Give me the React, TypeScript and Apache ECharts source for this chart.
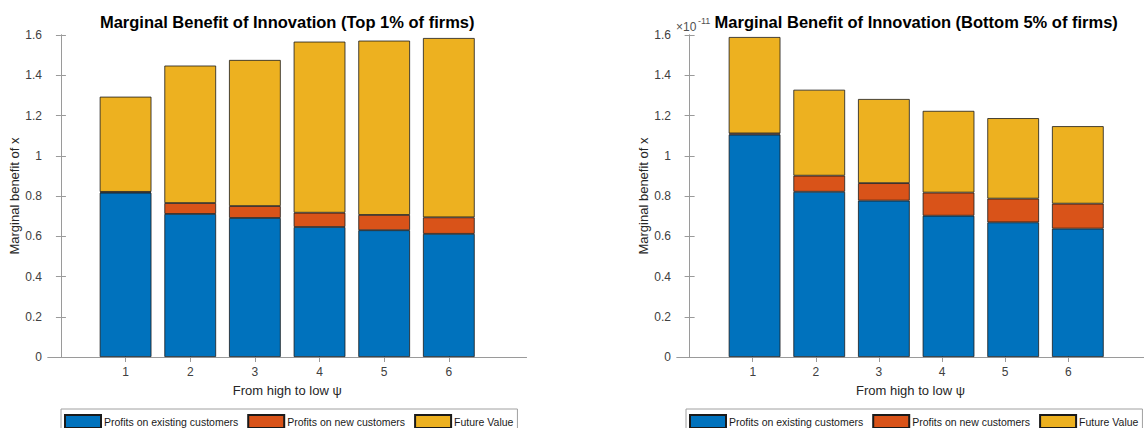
import React, { useEffect, useRef } from "react";
import * as echarts from "echarts";

const categories = ["1", "2", "3", "4", "5", "6"];
const tickPositions = [1, 2, 3, 4, 5, 6];
const seriesNames = ["Profits on existing customers", "Profits on new customers", "Future Value"];

// Top 1% of firms
const topExisting = [0.8165, 0.711, 0.691, 0.646, 0.63, 0.612];
const topNew = [0.004, 0.054, 0.059, 0.071, 0.076, 0.082];
const topFuture = [0.473, 0.683, 0.726, 0.85, 0.866, 0.891];

// Bottom 5% of firms (values in units of 1e-11)
const bottomExisting = [1.105, 0.821, 0.777, 0.702, 0.669, 0.638];
const bottomNew = [0.006, 0.08, 0.087, 0.115, 0.118, 0.124];
const bottomFuture = [0.479, 0.427, 0.418, 0.406, 0.4, 0.385];

const titles = [
  "Marginal Benefit of Innovation (Top 1% of firms)",
  "Marginal Benefit of Innovation (Bottom 5% of firms)",
];
const xName = "From high to low ψ";
const yName = "Marginal benefit of x";
const exponentBase = "×10";
const exponentPower = "-11";

const colors = ["#0072BD", "#D95319", "#EDB120"];
const FONT = "'Liberation Sans', Arial, Helvetica, sans-serif";

export default function App() {
  const ref = useRef<HTMLDivElement>(null);
  useEffect(() => {
    if (!ref.current) return;
    const chart = echarts.init(ref.current, undefined, { renderer: "svg" });

    const SP = 64.65; // px per x unit
    const XMIN = -0.2;
    const XMAX = 7.2;
    const TOP = 35;
    const H = 322;
    const frameLefts = [48, 677];
    const frameW = (XMAX - XMIN) * SP;

    const frames = frameLefts.map((l) => ({ left: l, top: TOP, width: frameW, height: H }));
    const barGrids = frameLefts.map((l) => ({
      left: l + (0.5 - XMIN) * SP,
      top: TOP,
      width: 6 * SP,
      height: H,
    }));

    const axisColor = "#9a9a9a";
    const labelColor = "#404040";

    const xAxes: any[] = [];
    const yAxes: any[] = [];
    frames.forEach((g, i) => {
      xAxes.push({
        type: "value",
        gridIndex: i,
        min: XMIN,
        max: XMAX,
        position: "bottom",
        name: xName,
        nameLocation: "middle",
        nameGap: 27,
        nameTextStyle: { fontFamily: FONT, fontSize: 13, color: "#262626" },
        axisLine: { show: true, lineStyle: { color: axisColor, width: 1 } },
        axisTick: { show: true, inside: true, length: 5, customValues: tickPositions, lineStyle: { color: axisColor } },
        axisLabel: { show: true, customValues: tickPositions, fontFamily: FONT, fontSize: 12, color: labelColor, margin: 9 },
        splitLine: { show: false },
      });
      xAxes.push({
        type: "value",
        gridIndex: i,
        min: XMIN,
        max: XMAX,
        position: "top",
        axisLine: { show: true, lineStyle: { color: axisColor, width: 1 } },
        axisTick: { show: true, inside: true, length: 5, customValues: tickPositions, lineStyle: { color: axisColor } },
        axisLabel: { show: false },
        splitLine: { show: false },
      });
      yAxes.push({
        type: "value",
        gridIndex: i,
        min: 0,
        max: 1.6,
        interval: 0.2,
        position: "left",
        name: yName,
        nameLocation: "middle",
        nameGap: 24,
        nameTextStyle: { fontFamily: FONT, fontSize: 13, color: "#262626" },
        axisLine: { show: true, lineStyle: { color: axisColor, width: 1 } },
        axisTick: { show: true, inside: true, length: 5, lineStyle: { color: axisColor } },
        axisLabel: { fontFamily: FONT, fontSize: 12, color: labelColor, margin: 6, formatter: (v: number) => String(+v.toFixed(1)) },
        splitLine: { show: false },
      });
      yAxes.push({
        type: "value",
        gridIndex: i,
        min: 0,
        max: 1.6,
        interval: 0.2,
        position: "right",
        axisLine: { show: true, lineStyle: { color: axisColor, width: 1 } },
        axisTick: { show: true, inside: true, length: 5, lineStyle: { color: axisColor } },
        axisLabel: { show: false },
        splitLine: { show: false },
      });
    });
    // hidden axes for the bar grids
    barGrids.forEach((_, i) => {
      xAxes.push({
        type: "category",
        gridIndex: 2 + i,
        data: categories,
        boundaryGap: true,
        show: false,
      });
      yAxes.push({
        type: "value",
        gridIndex: 2 + i,
        min: 0,
        max: 1.6,
        interval: 0.2,
        show: false,
        splitLine: { show: false },
      });
    });

    const datasets = [
      [topExisting, topNew, topFuture],
      [bottomExisting, bottomNew, bottomFuture],
    ];
    const series: any[] = [];
    datasets.forEach((ds, gi) => {
      ds.forEach((vals, si) => {
        series.push({
          type: "bar",
          name: seriesNames[si],
          xAxisIndex: 4 + gi,
          yAxisIndex: 4 + gi,
          stack: "s" + gi,
          barWidth: "80%",
          itemStyle: { color: colors[si], borderColor: "#1a1a1a", borderWidth: 0.8 },
          emphasis: { disabled: true },
          data: vals,
        });
      });
    });

    const legendBase = {
      orient: "horizontal",
      top: 409,
      padding: [5, 4, 4, 3],
      itemGap: 9,
      itemWidth: 36,
      itemHeight: 13,
      borderColor: "#a0a0a0",
      borderWidth: 1,
      icon: "rect",
      selectedMode: false,
      data: seriesNames,
      textStyle: { fontFamily: FONT, fontSize: 10.5, color: "#1a1a1a", padding: [0, 0, 0, -2] },
    };

    chart.setOption({
      animation: false,
      backgroundColor: "#ffffff",
      title: titles.map((t, i) => ({
        text: t,
        left: frames[i].left + frames[i].width / 2,
        textAlign: "center",
        top: 13,
        padding: 0,
        textStyle: { fontFamily: FONT, fontSize: 16.5, fontWeight: "bold", color: "#000" },
      })),
      grid: [...frames, ...barGrids].map((g) => ({ ...g, containLabel: false })),
      xAxis: xAxes,
      yAxis: yAxes,
      legend: [
        { ...legendBase, left: 61 },
        { ...legendBase, left: 686 },
      ],
      graphic: [
        {
          type: "text",
          left: 676,
          top: 21,
          style: { text: exponentBase, fontFamily: FONT, fontSize: 12, fill: "#505050" },
        },
        {
          type: "text",
          left: 698,
          top: 16,
          style: { text: exponentPower, fontFamily: FONT, fontSize: 9, fill: "#505050" },
        },
      ],
      series,
    });

    return () => chart.dispose();
  }, []);

  return (
    <div
      ref={ref}
      style={{ position: "fixed", left: 0, top: 0, width: 1144, height: 428, background: "#fff" }}
    />
  );
}
